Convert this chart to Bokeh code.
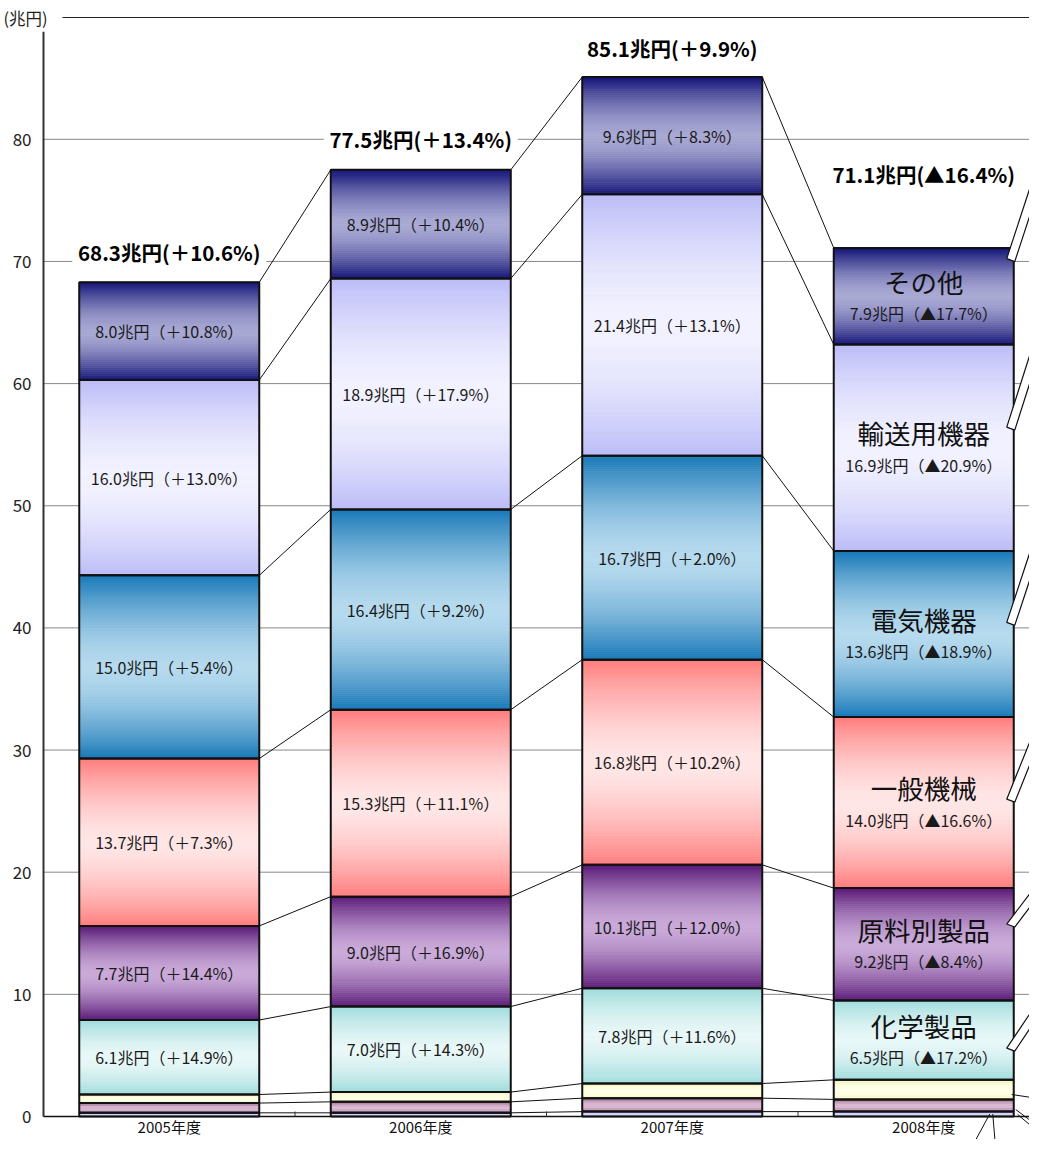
import numpy as np
from bokeh.plotting import figure
from bokeh.models import Range1d
from bokeh.embed import file_html
from bokeh.resources import INLINE
from bokeh.core.properties import value

# ---------------- data ----------------
years = ["2005年度", "2006年度", "2007年度", "2008年度"]
categories = ["食料品", "原料品", "鉱物性燃料", "化学製品", "原料別製品",
              "一般機械", "電気機器", "輸送用機器", "その他"]
food = [0.3, 0.3, 0.4, 0.4]
raw = [0.8, 0.9, 1.1, 1.0]
fuel = [0.7, 0.8, 1.2, 1.6]
chem = [6.1, 7.0, 7.8, 6.5]
chem_chg = ["＋14.9%", "＋14.3%", "＋11.6%", "▲17.2%"]
mat = [7.7, 9.0, 10.1, 9.2]
mat_chg = ["＋14.4%", "＋16.9%", "＋12.0%", "▲8.4%"]
gen = [13.7, 15.3, 16.8, 14.0]
gen_chg = ["＋7.3%", "＋11.1%", "＋10.2%", "▲16.6%"]
elec = [15.0, 16.4, 16.7, 13.6]
elec_chg = ["＋5.4%", "＋9.2%", "＋2.0%", "▲18.9%"]
trans = [16.0, 18.9, 21.4, 16.9]
trans_chg = ["＋13.0%", "＋17.9%", "＋13.1%", "▲20.9%"]
other = [8.0, 8.9, 9.6, 7.9]
other_chg = ["＋10.8%", "＋10.4%", "＋8.3%", "▲17.7%"]
totals = [68.3, 77.5, 85.1, 71.1]
total_chg = ["＋10.6%", "＋13.4%", "＋9.9%", "▲16.4%"]
y_ticks = [0, 10, 20, 30, 40, 50, 60, 70, 80]
unit_label = "(兆円)"

series = [food, raw, fuel, chem, mat, gen, elec, trans, other]
changes = [None, None, None, chem_chg, mat_chg, gen_chg, elec_chg, trans_chg, other_chg]

# ---------------- styles ----------------
FONT = "Noto Sans CJK JP"
grad = [("#b4b4ee", "#dadaff"),   # food
        ("#a27294", "#dcbcd6"),   # raw
        ("#f4f4c0", "#ffffea"),   # fuel
        ("#a0dcdc", "#e8f7f7"),   # chem
        ("#5a1a78", "#caaad9"),   # mat
        ("#ff7c7c", "#ffe6e6"),   # gen
        ("#1878b8", "#b6daee"),   # elec
        ("#bcbcf8", "#f2f2ff"),   # trans
        ("#141478", "#a8a8d4")]   # other

W, H = 1029, 1139
X0, X1 = 0.3290, 4.4205
Y0, Y1 = -1.883, 91.363
sx = W / (X1 - X0)
sy = H / (Y1 - Y0)
BAR_W = 180 / sx
AX = 0.5           # position of the value axis
Y_AXIS_TOP = 88.8
TOP_LINE = 89.97

p = figure(width=W, height=H, output_backend="svg", toolbar_location=None,
           x_range=Range1d(X0, X1), y_range=Range1d(Y0, Y1),
           x_axis_location=None, y_axis_location=None,
           min_border=0, min_border_left=0, min_border_right=0,
           min_border_top=0, min_border_bottom=0)
p.outline_line_color = None
p.background_fill_color = "white"
p.xgrid.grid_line_color = None
p.ygrid.grid_line_color = None


def mix(c1, c2, t):
    a = [int(c1[i:i + 2], 16) for i in (1, 3, 5)]
    b = [int(c2[i:i + 2], 16) for i in (1, 3, 5)]
    return "#%02x%02x%02x" % tuple(int(round(b[k] + (a[k] - b[k]) * t)) for k in range(3))


# ---------------- grid & axes ----------------
gt = [t for t in y_ticks if t > 0]
p.segment(x0=[AX] * len(gt), y0=gt, x1=[X1] * len(gt), y1=gt,
          line_color="#888888", line_width=1)
p.segment(x0=[AX + 19 / sx], y0=[TOP_LINE], x1=[X1], y1=[TOP_LINE],
          line_color="#222222", line_width=1)
p.text(x=[AX - 40 / sx], y=[TOP_LINE], text=[unit_label], text_font=value(FONT),
       text_font_size="16.5px", text_align="left", text_baseline="middle",
       text_color="#222222")
p.text(x=[AX - 12 / sx] * len(y_ticks), y=y_ticks, text=[str(t) for t in y_ticks],
       text_font=value(FONT), text_font_size="17px", text_align="right",
       text_baseline="middle", text_color="#222222")
p.text(x=[i + 1 for i in range(len(years))], y=[-10 / sy] * len(years), text=years,
       text_font=value(FONT), text_font_size="15px", text_align="center",
       text_baseline="middle", text_color="#111111")

# ---------------- stacked gradient bars ----------------
ql, qr, qb, qt, qc = [], [], [], [], []
ol, orr, ob, ot = [], [], [], []
cum = np.zeros((len(years), len(series) + 1))
for i in range(len(years)):
    base = 0.0
    for j, s in enumerate(series):
        v = s[i]
        cum[i, j] = base
        edge, center = grad[j]
        N = max(4, int(v * sy / 2))
        for k in range(N):
            u = (k + 0.5) / N
            t = abs(2 * u - 1) ** 1.6
            ql.append(i + 1 - BAR_W / 2)
            qr.append(i + 1 + BAR_W / 2)
            qb.append(base + v * k / N)
            qt.append(base + v * (k + 1) / N)
            qc.append(mix(edge, center, t))
        ol.append(i + 1 - BAR_W / 2)
        orr.append(i + 1 + BAR_W / 2)
        ob.append(base)
        ot.append(base + v)
        base += v
    cum[i, len(series)] = base

p.quad(left=ql, right=qr, bottom=qb, top=qt, fill_color=qc, line_color=qc,
       line_width=0.8)
p.quad(left=ol, right=orr, bottom=ob, top=ot, fill_alpha=0, line_color="#111111",
       line_width=2)

# connecting lines between bars
x0s, y0s, x1s, y1s = [], [], [], []
for i in range(len(years) - 1):
    for j in range(1, len(series) + 1):
        x0s.append(i + 1 + BAR_W / 2)
        y0s.append(cum[i, j])
        x1s.append(i + 2 - BAR_W / 2)
        y1s.append(cum[i + 1, j])
p.segment(x0=x0s, y0=y0s, x1=x1s, y1=y1s, line_color="#111111", line_width=1)

# axis lines and category ticks
p.segment(x0=[AX], y0=[0], x1=[AX], y1=[Y_AXIS_TOP], line_color="#333333", line_width=2)
p.segment(x0=[AX], y0=[0], x1=[X1], y1=[0], line_color="#111111", line_width=1.5)
ct = [i + 1.5 for i in range(len(years) - 1)]
p.segment(x0=ct, y0=[0] * len(ct), x1=ct, y1=[5 / sy] * len(ct),
          line_color="#333333", line_width=1)

# ---------------- segment labels ----------------
lx, ly, lt = [], [], []
nx, ny, nt = [], [], []
for i in range(len(years)):
    for j in range(3, len(series)):
        c = cum[i, j] + series[j][i] / 2
        txt = "%.1f兆円（%s）" % (series[j][i], changes[j][i])
        if i == len(years) - 1:
            lx.append(i + 1); ly.append(c - 17 / sy); lt.append(txt)
            nx.append(i + 1); ny.append(c + 15 / sy); nt.append(categories[j])
        else:
            lx.append(i + 1); ly.append(c); lt.append(txt)
p.text(x=lx, y=ly, text=lt, text_font=value(FONT), text_font_size="16px",
       text_align="center", text_baseline="middle", text_color="#1a1a1a")
p.text(x=nx, y=ny, text=nt, text_font=value(FONT), text_font_size="26.5px",
       text_align="center", text_baseline="middle", text_color="#111111")

# totals (white box behind the text)
tot_off = [30, 31, 29, 74]
tx_ = [i + 1 for i in range(len(years))]
ty_ = [totals[i] + tot_off[i] / sy for i in range(len(years))]
p.rect(x=tx_, y=ty_, width=194, height=24, width_units="screen",
       height_units="screen", fill_color="white", line_color=None)
p.text(x=tx_, y=ty_, text=["%.1f兆円(%s)" % (totals[i], total_chg[i]) for i in range(len(years))],
       text_font=value(FONT), text_font_size="20.5px", text_font_style="bold",
       text_align="center", text_baseline="middle", text_color="#000000")

# ---------------- callouts on the right of 2008 ----------------
tip_frac = [0.4, 0.68, 0.52, 0.57, 0.6, 0.89]
tip_dir = [(35, 52), (35, 46), (35, 87), (38, 115), (40, 125), (40, 122)]
xs, ys = [], []
i = len(years) - 1
for n, j in enumerate(range(3, len(series))):
    tx = i + 1 + BAR_W / 2 - 7 / sx
    ty = cum[i, j] + series[j][i] * tip_frac[n]
    dx, dy = tip_dir[n]
    L = 3.0
    bx, by = tx + 8 / sx, ty - 3 / sy
    xs.append([tx, bx, bx + L * dx / sx, tx + L * dx / sx])
    ys.append([ty, by, by + L * dy / sy, ty + L * dy / sy])
p.patches(xs=xs, ys=ys, fill_color="white", line_color="#111111", line_width=1.2)

# leader lines of the small categories
lead = [(2, 0.25, -2, 40, -6), (1, 0.17, 2, 40, -30), (0, 0.4, 4, 40, -34),
        (0, 0.5, -24, -25, -46), (0, 0.5, -21, 4, -47)]
sx0, sy0, sx1, sy1 = [], [], [], []
for j, f, ox, dx, dy in lead:
    x_start = i + 1 + BAR_W / 2 + ox / sx
    y_start = cum[i, j] + series[j][i] * f
    sx0.append(x_start); sy0.append(y_start)
    sx1.append(x_start + dx / sx); sy1.append(y_start + dy / sy)
p.segment(x0=sx0, y0=sy0, x1=sx1, y1=sy1, line_color="#111111", line_width=1)

open("out.html", "w").write(file_html(p, INLINE))
